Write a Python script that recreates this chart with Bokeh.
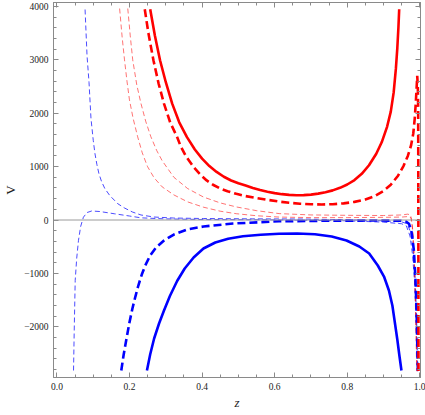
from bokeh.plotting import figure
from bokeh.models import (Range1d, LinearAxis, FixedTicker, Span,
                          NumeralTickFormatter, CustomJSTickFormatter)
from bokeh.embed import file_html
from bokeh.resources import INLINE

# ---------------- data ----------------
z_red_solid = [0.257, 0.27, 0.2841, 0.30, 0.3176, 0.337, 0.3583, 0.38, 0.40, 0.42, 0.44, 0.46,
               0.48, 0.50, 0.52, 0.54, 0.56, 0.58, 0.60, 0.62, 0.64, 0.66, 0.68, 0.70,
               0.72, 0.74, 0.76, 0.78, 0.80, 0.82, 0.84, 0.86, 0.88, 0.895, 0.91, 0.92,
               0.928, 0.934, 0.938, 0.941, 0.9432]
V_red_solid = [3947, 3450, 2991, 2580, 2179, 1830, 1553, 1320, 1150, 1010, 900, 810,
               740, 688, 645, 598, 560, 528, 503, 484, 470, 464, 466, 476,
               494, 520, 555, 603, 665, 748, 865, 1025, 1240, 1455, 1750, 2030,
               2390, 2830, 3220, 3600, 3947]

z_red_dash = [0.242, 0.252, 0.2659, 0.28, 0.295, 0.312, 0.3312, 0.3404, 0.355, 0.3766, 0.395, 0.4127,
              0.43, 0.45, 0.47, 0.4943, 0.52, 0.55, 0.58, 0.6123, 0.64, 0.67, 0.70, 0.73,
              0.76, 0.79, 0.82, 0.85, 0.875, 0.90, 0.92, 0.94, 0.955, 0.967, 0.976, 0.982,
              0.986, 0.989, 0.9912, 0.9929, 0.9945, 0.9955, 0.996, 0.9963]
V_red_dash = [3947, 3500, 2991, 2560, 2179, 1830, 1553, 1390, 1200, 990, 850, 741,
              660, 590, 540, 491, 448, 412, 378, 345, 322, 305, 295, 291,
              296, 312, 340, 385, 445, 545, 660, 830, 1010, 1200, 1400, 1620,
              1900, 2200, 2480, 2700, 2500, 2100, 0, -2830]

z_pink1 = [0.1727, 0.18, 0.1862, 0.193, 0.1998, 0.21, 0.2224, 0.235, 0.2496, 0.2678, 0.29, 0.3222,
           0.36, 0.4038, 0.45, 0.4943, 0.55, 0.6123, 0.70, 0.80, 0.90, 0.95, 0.968, 0.976,
           0.980, 0.984, 0.988, 0.9925]
V_pink1 = [3960, 3400, 3000, 2600, 2250, 1900, 1560, 1260, 1000, 790, 620, 470,
           340, 240, 165, 118, 80, 55, 45, 45, 50, 55, 65, 40,
           -150, -600, -1400, -2830]

z_pink2 = [0.1952, 0.202, 0.2088, 0.22, 0.2316, 0.245, 0.2588, 0.275, 0.29, 0.3222, 0.36, 0.4038,
           0.45, 0.4943, 0.55, 0.6123, 0.70, 0.80, 0.90, 0.95, 0.967, 0.975, 0.979, 0.983,
           0.987, 0.9915]
V_pink2 = [3960, 3450, 3000, 2530, 2180, 1840, 1560, 1300, 1110, 800, 590, 430,
           320, 245, 175, 120, 95, 88, 84, 95, 110, 90, -100, -500,
           -1300, -2830]

z_blue_thinA = [0.0775, 0.0829, 0.0884, 0.0938, 0.1001, 0.1047, 0.1101, 0.1156, 0.1229, 0.1319,
                0.1455, 0.168, 0.1862, 0.208, 0.2316, 0.2678, 0.322, 0.4038, 0.5397, 0.6755,
                0.80, 0.90, 0.95, 0.965, 0.975, 0.982, 0.987, 0.991, 0.9945]
V_blue_thinA = [3942, 3080, 2575, 1900, 1489, 1245, 1039, 871, 721, 590,
                459, 303, 225, 150, 94, 56, 37, 28, 22, 19,
                5, -15, -35, -70, -230, -580, -1080, -1780, -2830]

z_blue_thinB = [0.0457, 0.0476, 0.0503, 0.0544, 0.0593, 0.0653, 0.0729, 0.0829, 0.0957, 0.1183,
                0.1591, 0.1998, 0.2316, 0.295, 0.4038, 0.60, 0.80, 0.90, 0.95, 0.963,
                0.973, 0.980, 0.986, 0.990, 0.9935]
V_blue_thinB = [-2818, -2069, -1133, -721, -384, -122, 52, 140, 169, 159,
                116, 75, 41, 22, 9, 3, -15, -40, -70, -110,
                -300, -650, -1200, -1900, -2830]

z_blue_dash = [0.1773, 0.1835, 0.1917, 0.1998, 0.208, 0.2162, 0.2243, 0.2338, 0.2434, 0.2569,
               0.2732, 0.295, 0.3222, 0.3583, 0.4038, 0.4853, 0.6123, 0.7572, 0.8931, 0.9476,
               0.962, 0.970, 0.976, 0.9793, 0.9837, 0.988, 0.991, 0.9946]
V_blue_dash = [-2818, -2537, -2219, -1919, -1657, -1433, -1227, -1021, -852, -665,
               -515, -384, -272, -178, -122, -66, -24, -13, -9, -15,
               -30, -71, -180, -322, -572, -1100, -1700, -2822]

z_blue_solid = [0.248, 0.2569, 0.2678, 0.2814, 0.295, 0.3113, 0.3312, 0.3521, 0.3766, 0.4038,
                0.4364, 0.4718, 0.5126, 0.5615, 0.6123, 0.662, 0.711, 0.7572, 0.798, 0.8333,
                0.8605, 0.8842, 0.9013, 0.9149, 0.9244, 0.9312, 0.938, 0.9437, 0.9494]
V_blue_solid = [-2818, -2519, -2219, -1938, -1695, -1423, -1142, -908, -702, -534,
                -421, -352, -305, -275, -258, -253, -268, -309, -384, -496,
                -627, -852, -1058, -1320, -1601, -1919, -2238, -2537, -2818]

x_major = [0.0, 0.2, 0.4, 0.6, 0.8, 1.0]
x_minor = [0.05, 0.1, 0.15, 0.25, 0.3, 0.35, 0.45, 0.5, 0.55, 0.65, 0.7, 0.75, 0.85, 0.9, 0.95]
y_major = [-2000, -1000, 0, 1000, 2000, 3000, 4000]
y_minor = [-2800, -2600, -2400, -2200, -1800, -1600, -1400, -1200, -800, -600, -400, -200,
           200, 400, 600, 800, 1200, 1400, 1600, 1800, 2200, 2400, 2600, 2800,
           3200, 3400, 3600, 3800]

# ---------------- figure ----------------
FRAME = "#8a8a8a"
FONT = "Liberation Serif"

p = figure(width=425, height=415, output_backend="svg", toolbar_location=None,
           x_range=Range1d(-0.0095, 1.0019), y_range=Range1d(-2949, 4073),
           x_axis_type=None, y_axis_type=None,
           min_border_left=48, min_border_right=5, min_border_top=2, min_border_bottom=38)
p.outline_line_color = FRAME
p.background_fill_color = "white"
p.border_fill_color = "white"

xt = FixedTicker(ticks=x_major, minor_ticks=x_minor)
yt = FixedTicker(ticks=y_major, minor_ticks=y_minor)
yfmt = CustomJSTickFormatter(code="return tick < 0 ? '\u2212' + Math.abs(tick) : String(tick);")


def style(ax):
    ax.axis_line_color = FRAME
    ax.major_tick_line_color = FRAME
    ax.minor_tick_line_color = FRAME
    ax.major_tick_in = 5
    ax.major_tick_out = 0
    ax.minor_tick_in = 3
    ax.minor_tick_out = 0
    ax.major_label_text_font = FONT
    ax.major_label_text_color = "#222222"
    ax.major_label_text_font_size = "9.5px"
    return ax


xb = style(LinearAxis(ticker=xt, formatter=NumeralTickFormatter(format="0.0")))
xb.axis_label = "z"
xb.axis_label_text_font = FONT
xb.axis_label_text_font_style = "italic"
xb.axis_label_text_font_size = "13px"
xb.axis_label_text_color = "#222222"
xb.axis_label_standoff = 2
xb.major_label_standoff = 5

yl = style(LinearAxis(ticker=yt, formatter=yfmt))
yl.axis_label = "V"
yl.axis_label_text_font = FONT
yl.axis_label_text_font_style = "normal"
yl.axis_label_text_font_size = "13px"
yl.axis_label_text_color = "#222222"
yl.axis_label_standoff = 3
yl.major_label_standoff = 5

p.add_layout(xb, "below")
p.add_layout(yl, "left")


def mirror(minor_list, length):
    ax = LinearAxis(ticker=FixedTicker(ticks=[], minor_ticks=minor_list))
    ax.axis_line_color = FRAME
    ax.major_tick_line_color = None
    ax.minor_tick_line_color = FRAME
    ax.minor_tick_in = length
    ax.minor_tick_out = 0
    ax.major_label_standoff = 0
    ax.axis_label_standoff = 0
    return ax


p.add_layout(mirror(x_major, 5), "above")
p.add_layout(mirror(x_minor, 3), "above")
p.add_layout(mirror(y_major, 5), "right")
p.add_layout(mirror(y_minor, 3), "right")

p.add_layout(Span(location=0, dimension="width", line_color="#9a9a9a", line_width=1))

RED = "#ff0000"
BLUE = "#0000ff"

p.line(z_blue_thinA, V_blue_thinA, line_color=BLUE, line_alpha=0.7, line_width=1, line_dash="5 3")
p.line(z_blue_thinB, V_blue_thinB, line_color=BLUE, line_alpha=0.7, line_width=1, line_dash="5 3")
p.line(z_pink1, V_pink1, line_color=RED, line_alpha=0.55, line_width=1, line_dash="5 3")
p.line(z_pink2, V_pink2, line_color=RED, line_alpha=0.55, line_width=1, line_dash="5 3")
p.line(z_blue_dash, V_blue_dash, line_color=BLUE, line_width=2.6, line_dash="8 4")
p.line(z_red_dash, V_red_dash, line_color=RED, line_width=2.6, line_dash="8 4")
p.line(z_blue_solid, V_blue_solid, line_color=BLUE, line_width=2.6)
p.line(z_red_solid, V_red_solid, line_color=RED, line_width=2.6)

open("out.html", "w").write(file_html(p, INLINE))
